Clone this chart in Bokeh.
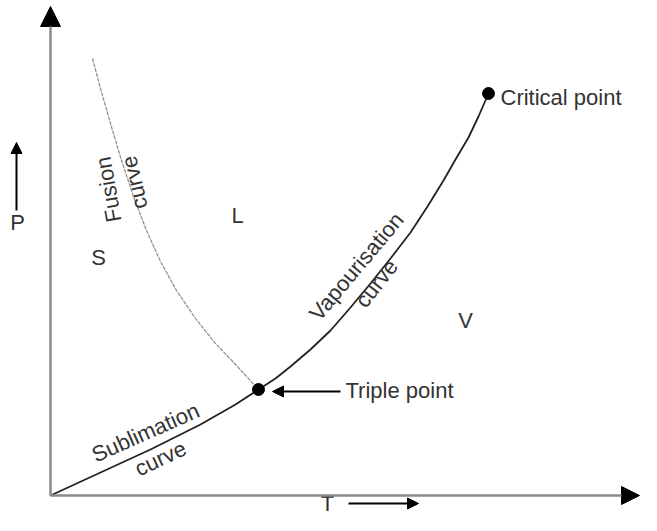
from bokeh.plotting import figure
from bokeh.models import Range1d, Arrow, NormalHead
from bokeh.embed import file_html
from bokeh.resources import INLINE
from bokeh.core.properties import value

# ---- schematic data (T, P in diagram units) ----
sublimation_T = [0, 50, 100, 150, 185, 208]
sublimation_P = [0, 23, 46, 71, 91, 106]

vapour_T = [208, 225, 240, 260, 280, 300, 320, 340, 360, 377, 393, 405, 418, 428, 438]
vapour_P = [106, 117, 129, 146, 165, 188, 212, 237, 263, 289, 315, 336, 358, 379, 402]

fusion_T = [42, 50, 60, 71, 83, 96, 110, 126, 145, 165, 186, 208]
fusion_P = [437, 407, 372, 335, 299, 265, 234, 205, 177, 152, 130, 106]

point_T = [208, 438]
point_P = [106, 402]

region_labels = ["S", "L", "V"]
region_T = [48, 187, 415]
region_P = [238, 280, 175]

curve_labels = ["Fusion", "curve", "Sublimation", "curve", "Vapourisation", "curve"]
curve_label_T = [58, 84, 95, 110, 306, 326]
curve_label_P = [306, 313, 63, 37, 229, 212]
curve_label_angle = [100, 103, 24, 25, 50, 52]

FONT = value("Liberation Sans")
TXT = "#333333"
FS = "22px"

p = figure(width=641, height=515, x_range=Range1d(-50, 591), y_range=Range1d(-20, 495),
           output_backend="svg", toolbar_location=None, min_border=0)
p.axis.visible = False
p.grid.visible = False
p.outline_line_color = None
p.background_fill_color = "white"

# main axes (arrows)
x_axis_end = 589
y_axis_end = 489
p.add_layout(Arrow(end=NormalHead(size=18, fill_color="black", line_color="black"),
                   x_start=0, y_start=0, x_end=x_axis_end, y_end=0,
                   line_color="#8a8a8a", line_width=2.5))
p.add_layout(Arrow(end=NormalHead(size=20, fill_color="black", line_color="black"),
                   x_start=0, y_start=0, x_end=0, y_end=y_axis_end,
                   line_color="#8a8a8a", line_width=2.5))

# curves
p.line(fusion_T, fusion_P, line_color="#8c8c8c", line_width=1.2, line_dash="4 1")
p.line(sublimation_T, sublimation_P, line_color="#222222", line_width=1.8)
p.line(vapour_T, vapour_P, line_color="#222222", line_width=1.8)
p.scatter(point_T, point_P, size=12, fill_color="black", line_color="black")

# small arrows: P, T, triple point
p.add_layout(Arrow(end=NormalHead(size=11, fill_color="black", line_color="black"),
                   x_start=-34, y_start=285, x_end=-34, y_end=353,
                   line_color="black", line_width=2))
p.add_layout(Arrow(end=NormalHead(size=11, fill_color="black", line_color="black"),
                   x_start=298, y_start=-8, x_end=368, y_end=-8,
                   line_color="black", line_width=2))
p.add_layout(Arrow(end=NormalHead(size=11, fill_color="black", line_color="black"),
                   x_start=290, y_start=104, x_end=222, y_end=104,
                   line_color="black", line_width=2))

# axis letters
p.text(x=[-33, 277], y=[273, -8], text=["P", "T"], text_font=FONT, text_font_size=FS,
       text_color=TXT, text_align="center", text_baseline="middle")

# point labels
p.text(x=[295, 450], y=[105, 398], text=["Triple point", "Critical point"], text_font=FONT,
       text_font_size=FS, text_color=TXT, text_align="left", text_baseline="middle")

# region labels
p.text(x=region_T, y=region_P, text=region_labels, text_font=FONT, text_font_size=FS,
       text_color=TXT, text_align="center", text_baseline="middle")

# curve labels
p.text(x=curve_label_T, y=curve_label_P, text=curve_labels, angle=curve_label_angle,
       angle_units="deg", text_font=FONT, text_font_size=FS, text_color=TXT,
       text_align="center", text_baseline="middle")

open("out.html", "w").write(file_html(p, INLINE))
